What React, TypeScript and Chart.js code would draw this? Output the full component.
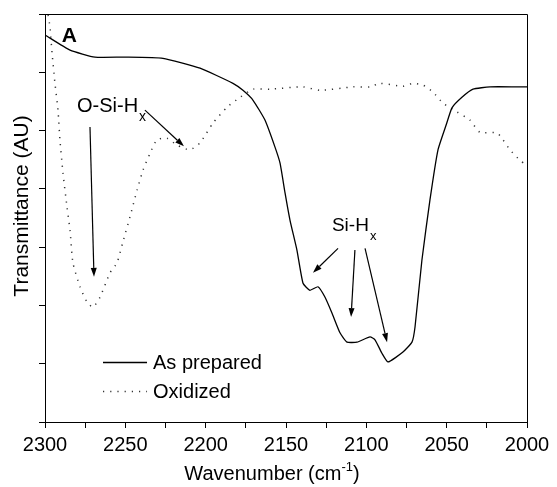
import React, { useEffect, useRef } from "react";
import { Chart, registerables } from "chart.js";

Chart.register(...registerables);

// ---- data (wavenumber in cm^-1, transmittance in arbitrary units) ----
const asPreparedX = [2300, 2284.4, 2268.9, 2250.2, 2226.6, 2203.5, 2183.0, 2176.8, 2170.5, 2163.1, 2156.9, 2153.7, 2150.6, 2147.5, 2143.2, 2139.4, 2135.1, 2130.1, 2125.7, 2121.4, 2116.4, 2112.0, 2105.8, 2097.7, 2094.6, 2090.3, 2086.5, 2077.2, 2071.6, 2069.7, 2065.4, 2060.4, 2055.4, 2050.4, 2046.7, 2040.5, 2033.6, 2023.0, 2006.2, 2000];
const asPreparedY = [6.64, 6.38, 6.26, 6.26, 6.24, 6.07, 5.81, 5.69, 5.52, 5.18, 4.72, 4.44, 3.93, 3.46, 2.95, 2.38, 2.26, 2.32, 2.14, 1.87, 1.53, 1.37, 1.37, 1.46, 1.41, 1.18, 1.03, 1.2, 1.37, 1.63, 2.78, 3.81, 4.67, 5.09, 5.39, 5.57, 5.71, 5.75, 5.75, 5.75];

const oxidizedX = [2298.1, 2296.9, 2295.6, 2293.8, 2291.9, 2290.7, 2288.8, 2286.3, 2284.4, 2282.6, 2278.2, 2273.9, 2270.1, 2265.8, 2259.5, 2255.2, 2251.5, 2247.1, 2242.7, 2239.0, 2234.6, 2230.3, 2224.1, 2217.8, 2209.8, 2203.5, 2195.4, 2186.7, 2178.6, 2170.5, 2160.0, 2139.4, 2128.8, 2108.3, 2097.7, 2091.5, 2077.2, 2071.0, 2064.7, 2058.5, 2052.3, 2043.6, 2035.5, 2029.3, 2018.7, 2014.9, 2010.6, 2004.4, 2000.6];
const oxidizedY = [6.98, 6.78, 6.33, 5.81, 5.35, 4.84, 4.27, 3.69, 3.28, 2.73, 2.32, 2.06, 1.97, 2.14, 2.56, 2.73, 3.09, 3.52, 3.98, 4.32, 4.61, 4.84, 4.87, 4.75, 4.67, 4.79, 5.13, 5.4, 5.57, 5.71, 5.71, 5.75, 5.69, 5.75, 5.75, 5.81, 5.76, 5.81, 5.78, 5.66, 5.47, 5.32, 5.18, 4.97, 4.96, 4.84, 4.67, 4.49, 4.41];

const seriesLabels = ["As prepared", "Oxidized"];
const xTickLabels = ["2300", "2250", "2200", "2150", "2100", "2050", "2000"];
const xTitle = "Wavenumber (cm";
const xTitleSup = "-1";
const yTitle = "Transmittance (AU)";

// annotation anchors in data coordinates
const annotations = {
  panel: { text: "A", x: 2289.5, y: 6.62 },
  oSiH: { text: "O-Si-H", sub: "x", x: 2280.1, y: 5.42 },
  siH: { text: "Si-H", sub: "x", x: 2121.4, y: 3.36 },
  arrows: [
    [2272.0, 5.06, 2269.5, 2.49],
    [2237.8, 5.35, 2213.5, 4.73],
    [2117.6, 2.98, 2133.2, 2.56],
    [2107.1, 2.95, 2109.5, 1.8],
    [2100.8, 2.98, 2087.1, 1.37],
  ],
  legend: { x1: 2263.9, x2: 2236.5, y1: 1.03, y2: 0.53 },
};

const FONT = "'Liberation Sans', Arial, Helvetica, sans-serif";

const overlayPlugin = {
  id: "overlay",
  afterDraw(chart: any) {
    const { ctx, chartArea, scales } = chart;
    const xs = scales.x;
    const ys = scales.y;
    const px = (v: number) => xs.getPixelForValue(v);
    const py = (v: number) => ys.getPixelForValue(v);
    ctx.save();
    // frame: top and right borders
    ctx.strokeStyle = "#000";
    ctx.lineWidth = 1;
    ctx.beginPath();
    ctx.moveTo(Math.round(chartArea.left) + 0.5, Math.round(chartArea.top) + 0.5);
    ctx.lineTo(Math.round(chartArea.right) + 0.5, Math.round(chartArea.top) + 0.5);
    ctx.lineTo(Math.round(chartArea.right) + 0.5, Math.round(chartArea.bottom) + 0.5);
    ctx.stroke();

    ctx.fillStyle = "#000";
    ctx.textBaseline = "middle";
    ctx.textAlign = "left";
    // panel label
    ctx.font = `bold 21px ${FONT}`;
    ctx.fillText(annotations.panel.text, px(annotations.panel.x), py(annotations.panel.y));

    // labels with subscripts
    const drawSub = (a: any, size: number) => {
      ctx.font = `${size}px ${FONT}`;
      const x0 = px(a.x);
      const y0 = py(a.y);
      ctx.fillText(a.text, x0, y0);
      const w = ctx.measureText(a.text).width;
      ctx.font = `${Math.round(size * 0.7)}px ${FONT}`;
      ctx.fillText(a.sub, x0 + w + 1, y0 + size * 0.55);
    };
    drawSub(annotations.oSiH, 20);
    drawSub(annotations.siH, 19);

    // arrows
    ctx.strokeStyle = "#000";
    ctx.lineWidth = 1.2;
    for (const [ax, ay, bx, by] of annotations.arrows) {
      const x1 = px(ax), y1 = py(ay), x2 = px(bx), y2 = py(by);
      const ang = Math.atan2(y2 - y1, x2 - x1);
      const L = 9, W = 3;
      const bxp = x2 - L * Math.cos(ang), byp = y2 - L * Math.sin(ang);
      ctx.beginPath();
      ctx.moveTo(x1, y1);
      ctx.lineTo(bxp, byp);
      ctx.stroke();
      ctx.beginPath();
      ctx.moveTo(x2, y2);
      ctx.lineTo(bxp + W * Math.sin(ang), byp - W * Math.cos(ang));
      ctx.lineTo(bxp - W * Math.sin(ang), byp + W * Math.cos(ang));
      ctx.closePath();
      ctx.fill();
    }

    // legend
    const lg = annotations.legend;
    const ds = chart.data.datasets;
    const rows = [lg.y1, lg.y2];
    rows.forEach((yy, i) => {
      const d = ds[i];
      const y = Math.round(py(yy)) + 0.5;
      ctx.save();
      ctx.strokeStyle = d.borderColor;
      ctx.lineWidth = d.borderWidth;
      ctx.setLineDash(d.borderDash || []);
      ctx.beginPath();
      ctx.moveTo(px(lg.x1), y);
      ctx.lineTo(px(lg.x2), y);
      ctx.stroke();
      ctx.restore();
      ctx.font = `20px ${FONT}`;
      ctx.fillText(d.label, px(lg.x2) + 6, y + 1);
    });

    // x title
    ctx.font = `20px ${FONT}`;
    const w1 = ctx.measureText(xTitle).width;
    ctx.font = `13px ${FONT}`;
    const w2 = ctx.measureText(xTitleSup).width;
    ctx.font = `20px ${FONT}`;
    const w3 = ctx.measureText(")").width;
    const total = w1 + w2 + w3;
    const cx = (chartArea.left + chartArea.right) / 2 - 14;
    let x = cx - total / 2;
    ctx.textBaseline = "alphabetic";
    const base = chartArea.bottom + 58;
    ctx.fillText(xTitle, x, base);
    x += w1;
    ctx.font = `13px ${FONT}`;
    ctx.fillText(xTitleSup, x, base - 9);
    x += w2;
    ctx.font = `20px ${FONT}`;
    ctx.fillText(")", x, base);

    // y title
    ctx.save();
    ctx.translate(22, (chartArea.top + chartArea.bottom) / 2 - 12);
    ctx.rotate(-Math.PI / 2);
    ctx.textAlign = "center";
    ctx.textBaseline = "middle";
    ctx.font = `21px ${FONT}`;
    ctx.fillText(yTitle, 0, 0);
    ctx.restore();

    ctx.restore();
  },
};

export default function App() {
  const ref = useRef<HTMLCanvasElement | null>(null);
  useEffect(() => {
    document.body.style.margin = "0";
    const canvas = ref.current;
    if (!canvas) return;
    const chart = new Chart(canvas, {
      type: "line",
      data: {
        datasets: [
          {
            label: seriesLabels[0],
            data: asPreparedX.map((x, i) => ({ x, y: asPreparedY[i] })),
            borderColor: "#000",
            borderWidth: 1.3,
            pointRadius: 0,
            tension: 0.15,
            fill: false,
          },
          {
            label: seriesLabels[1],
            data: oxidizedX.map((x, i) => ({ x, y: oxidizedY[i] })),
            borderColor: "#333",
            borderWidth: 1.5,
            borderDash: [1.2, 6],
            pointRadius: 0,
            tension: 0.2,
            fill: false,
          },
        ],
      },
      options: {
        responsive: false,
        animation: false,
        events: [],
        layout: { padding: { top: 14, right: 30, left: 0, bottom: 0 } },
        plugins: { legend: { display: false }, tooltip: { enabled: false } },
        scales: {
          x: {
            type: "linear",
            reverse: true,
            min: 2000,
            max: 2300,
            afterBuildTicks: (s: any) => {
              const t = [];
              for (let v = 2000; v <= 2300; v += 25) t.push({ value: v });
              s.ticks = t;
            },
            ticks: {
              autoSkip: false,
              maxRotation: 0,
              padding: 5,
              color: "#000",
              font: { family: FONT, size: 20 },
              callback: (v: any) => (xTickLabels.includes(String(v)) ? String(v) : ""),
            },
            grid: { drawOnChartArea: false, drawTicks: true, tickLength: 6, color: "#000" },
            border: { color: "#000", width: 1 },
            afterFit: (s: any) => {
              s.height = 65;
            },
          },
          y: {
            min: 0,
            max: 7,
            ticks: { stepSize: 1, callback: () => "", padding: 0 },
            grid: { drawOnChartArea: false, drawTicks: true, tickLength: 6, color: "#000" },
            border: { color: "#000", width: 1 },
            afterFit: (s: any) => {
              s.width = 45;
            },
          },
        },
      },
      plugins: [overlayPlugin],
    } as any);
    return () => chart.destroy();
  }, []);
  return <canvas ref={ref} width={557} height={487} style={{ display: "block" }} />;
}
